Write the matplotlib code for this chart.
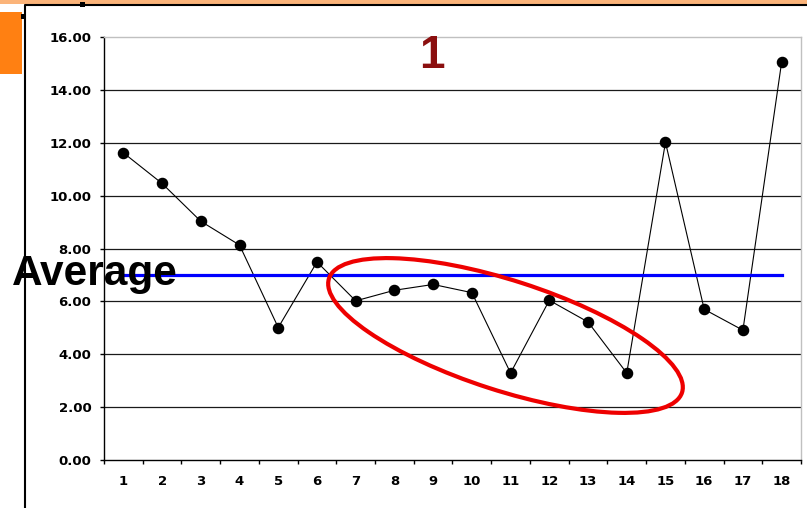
import matplotlib
matplotlib.use("Agg")
import matplotlib.pyplot as plt
import numpy as np
from matplotlib.patches import Ellipse, Rectangle
from matplotlib.lines import Line2D
from matplotlib.transforms import IdentityTransform

# data
points = list(range(1, 19))
values = [11.62, 10.46, 9.03, 8.13, 5.01, 7.49, 6.02, 6.42, 6.64,
          6.33, 3.29, 6.04, 5.22, 3.29, 12.02, 5.70, 4.91, 15.05]
average = [7.0] * len(points)
y_ticks = [0, 2, 4, 6, 8, 10, 12, 14, 16]

W, H = 807, 508
fig = plt.figure(figsize=(W / 100, H / 100), dpi=100)
fig.patch.set_facecolor("white")

# slide decoration: orange strip on top, orange tab on the left, black frame
fig.patches.append(Rectangle((0, 1 - 4 / H), 1, 4 / H, transform=fig.transFigure,
                             facecolor="#FBB47A", edgecolor="none", zorder=0))
fig.patches.append(Rectangle((0, 1 - 74 / H), 22 / W, 62 / H, transform=fig.transFigure,
                             facecolor="#FF8012", edgecolor="none", zorder=0))
fig.lines.append(Line2D([25 / W, 25 / W, 1], [0, 1 - 5 / H, 1 - 5 / H],
                        transform=fig.transFigure, color="black", lw=1.5))
for hx, hy in [(23, 16), (82, 4)]:
    fig.patches.append(Rectangle(((hx - 2.5) / W, 1 - (hy + 2.5) / H), 5 / W, 5 / H,
                                 transform=fig.transFigure, facecolor="black",
                                 edgecolor="none", zorder=3))

ax = fig.add_axes([104 / W, (H - 460) / H, (801 - 104) / W, (460 - 37) / H])
ax.set_xlim(0.5, 18.5)
ax.set_ylim(0, 16)

# grid lines
for yv in y_ticks[1:-1]:
    ax.axhline(yv, color="#1a1a1a", lw=0.9, zorder=1)

ax.plot(points, values, color="black", lw=0.8, marker="o", markersize=7.3,
        zorder=3)
ax.plot(points, average, color="#0000FF", lw=2.3, zorder=4)

# axes styling
for side in ["top", "right"]:
    ax.spines[side].set_color("#c0c0c0")
    ax.spines[side].set_linewidth(1.0)
for side in ["left", "bottom"]:
    ax.spines[side].set_color("black")
    ax.spines[side].set_linewidth(1.0)

ax.set_yticks(y_ticks)
ax.set_yticklabels([f"{v:.2f}" for v in y_ticks])
ax.set_xticks(np.arange(0.5, 19, 1))
ax.set_xticklabels([])
ax.set_xticks(points, minor=True)
ax.set_xticklabels([str(p) for p in points], minor=True)
ax.tick_params(axis="y", length=3, width=1, pad=6, labelsize=9.5)
ax.tick_params(axis="x", which="major", length=3, width=1)
ax.tick_params(axis="x", which="minor", length=0, pad=11, labelsize=9.5)
for lab in ax.get_yticklabels() + ax.get_xticklabels(minor=True):
    lab.set_fontweight("bold")
    lab.set_family("DejaVu Sans")

ax.text(8.96, 16.1, "1", color="#8B0F0F", fontsize=33, fontweight="bold",
        family="Liberation Sans", ha="center", va="top", zorder=5)

fig.text(12 / W, 1 - 285 / H, "Average", fontsize=30.5, fontweight="bold",
         family="Liberation Sans", ha="left", va="baseline", zorder=6)

# red ellipse around points 7-14 (pixel sizes)
cx, cy = 505.5, H - 335.5
fig.patches.append(Ellipse((cx, cy), 371, 110, angle=-17.9,
                           transform=IdentityTransform(), fill=False,
                           edgecolor="#EE0000", lw=3.0, zorder=6))

plt.savefig("out.png", dpi=100)
plt.close()
